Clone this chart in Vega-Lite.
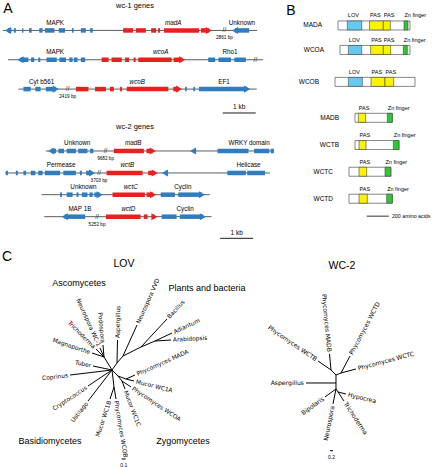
{
"$schema": "https://vega.github.io/schema/vega-lite/v6.json",
"padding": 0,
"background": "white",
"spacing": 0,
"config": {"view": {"stroke": null}, "text": {"font": "Liberation Sans", "color": "#000"}},
"datasets": {
"aLines": [
{"r":1,"s":0.09,"e":7.79},{"r":2,"s":0.24,"e":7.97},{"r":3,"s":0.56,"e":7.78},
{"r":5.11,"s":1.39,"e":8.30},{"r":5.86,"s":0.15,"e":8.18},{"r":6.60,"s":1.26,"e":6.36},{"r":7.35,"s":1.34,"e":6.41}
],
"aFeat": [
{"r":1,"s":0.15,"e":0.35,"g":"n","a":"-"},{"r":1,"s":0.42,"e":0.48,"g":"n","a":""},{"r":1,"s":0.67,"e":0.71,"g":"n","a":""},
{"r":1,"s":0.88,"e":0.96,"g":"n","a":""},{"r":1,"s":1.19,"e":1.29,"g":"n","a":""},{"r":1,"s":1.36,"e":1.65,"g":"n","a":""},
{"r":1,"s":1.78,"e":1.97,"g":"n","a":""},{"r":1,"s":2.18,"e":2.23,"g":"n","a":""},{"r":1,"s":2.45,"e":2.60,"g":"n","a":""},
{"r":1,"s":2.73,"e":2.81,"g":"n","a":""},
{"r":1,"s":3.73,"e":4.03,"g":"t","a":""},{"r":1,"s":4.12,"e":4.42,"g":"t","a":""},{"r":1,"s":4.58,"e":4.73,"g":"t","a":""},
{"r":1,"s":4.79,"e":4.85,"g":"t","a":""},{"r":1,"s":4.97,"e":6.03,"g":"t","a":""},{"r":1,"s":6.09,"e":6.42,"g":"t","a":"+"},
{"r":1,"s":7.03,"e":7.55,"g":"n","a":"-"},
{"r":2,"s":0.53,"e":0.86,"g":"n","a":"-"},{"r":2,"s":0.94,"e":1.04,"g":"n","a":""},{"r":2,"s":1.16,"e":1.22,"g":"n","a":""},
{"r":2,"s":1.41,"e":1.72,"g":"n","a":""},{"r":2,"s":1.80,"e":2.00,"g":"n","a":""},{"r":2,"s":2.10,"e":2.20,"g":"n","a":""},
{"r":2,"s":2.24,"e":2.35,"g":"n","a":""},{"r":2,"s":2.45,"e":2.58,"g":"n","a":""},
{"r":2,"s":3.08,"e":3.29,"g":"t","a":""},{"r":2,"s":3.38,"e":3.69,"g":"t","a":""},{"r":2,"s":3.79,"e":3.91,"g":"t","a":""},
{"r":2,"s":4.05,"e":4.11,"g":"t","a":""},{"r":2,"s":4.19,"e":5.20,"g":"t","a":""},{"r":2,"s":5.26,"e":5.61,"g":"t","a":"+"},
{"r":2,"s":6.31,"e":6.52,"g":"n","a":""},{"r":2,"s":6.62,"e":7.00,"g":"n","a":""},{"r":2,"s":7.10,"e":7.45,"g":"n","a":""},
{"r":3,"s":0.71,"e":0.93,"g":"n","a":""},{"r":3,"s":1.07,"e":1.23,"g":"n","a":""},{"r":3,"s":1.39,"e":1.78,"g":"n","a":"+"},
{"r":3,"s":2.30,"e":2.68,"g":"t","a":""},{"r":3,"s":2.88,"e":3.21,"g":"t","a":""},{"r":3,"s":3.33,"e":3.45,"g":"t","a":""},
{"r":3,"s":3.64,"e":3.70,"g":"t","a":""},{"r":3,"s":3.84,"e":5.10,"g":"t","a":""},{"r":3,"s":5.25,"e":5.51,"g":"t","a":"+"},
{"r":3,"s":5.61,"e":5.66,"g":"n","a":""},{"r":3,"s":5.86,"e":5.91,"g":"n","a":""},{"r":3,"s":6.03,"e":7.58,"g":"n","a":"+"},
{"r":5.11,"s":1.46,"e":1.70,"g":"n","a":"-"},{"r":5.11,"s":1.77,"e":1.94,"g":"n","a":""},{"r":5.11,"s":2.02,"e":2.30,"g":"n","a":""},
{"r":5.11,"s":2.37,"e":2.65,"g":"n","a":""},{"r":5.11,"s":2.73,"e":2.83,"g":"n","a":""},
{"r":5.11,"s":3.45,"e":4.36,"g":"t","a":""},{"r":5.11,"s":4.44,"e":4.55,"g":"t","a":""},{"r":5.11,"s":4.60,"e":4.72,"g":"t","a":"+"},
{"r":5.11,"s":5.76,"e":5.86,"g":"n","a":"-"},
{"r":5.11,"s":6.59,"e":7.53,"g":"n","a":""},{"r":5.11,"s":7.70,"e":8.16,"g":"n","a":""},{"r":5.11,"s":8.20,"e":8.30,"g":"n","a":""},
{"r":5.86,"s":0.18,"e":0.24,"g":"n","a":""},{"r":5.86,"s":0.48,"e":0.54,"g":"n","a":""},{"r":5.86,"s":0.71,"e":0.79,"g":"n","a":""},
{"r":5.86,"s":0.93,"e":1.07,"g":"n","a":""},{"r":5.86,"s":1.16,"e":1.29,"g":"n","a":""},{"r":5.86,"s":1.36,"e":1.82,"g":"n","a":""},
{"r":5.86,"s":1.92,"e":2.30,"g":"n","a":""},{"r":5.86,"s":2.42,"e":2.48,"g":"n","a":""},{"r":5.86,"s":2.61,"e":2.88,"g":"n","a":"+"},
{"r":5.86,"s":3.23,"e":4.32,"g":"t","a":""},{"r":5.86,"s":4.49,"e":4.61,"g":"t","a":""},{"r":5.86,"s":4.67,"e":4.78,"g":"t","a":"+"},
{"r":5.86,"s":4.91,"e":5.05,"g":"n","a":"-"},{"r":5.86,"s":6.89,"e":7.45,"g":"n","a":""},{"r":5.86,"s":7.49,"e":8.03,"g":"n","a":""},
{"r":6.60,"s":1.82,"e":1.88,"g":"n","a":""},{"r":6.60,"s":2.02,"e":2.20,"g":"n","a":""},{"r":6.60,"s":2.32,"e":2.38,"g":"n","a":""},
{"r":6.60,"s":2.48,"e":2.65,"g":"n","a":""},{"r":6.60,"s":2.71,"e":2.81,"g":"n","a":""},{"r":6.60,"s":2.86,"e":3.11,"g":"n","a":"+"},
{"r":6.60,"s":3.41,"e":4.39,"g":"t","a":""},{"r":6.60,"s":4.44,"e":4.57,"g":"t","a":""},{"r":6.60,"s":4.61,"e":4.73,"g":"t","a":"+"},
{"r":6.60,"s":4.87,"e":5.30,"g":"n","a":""},{"r":6.60,"s":5.40,"e":6.21,"g":"n","a":"+"},
{"r":7.35,"s":1.87,"e":2.58,"g":"n","a":"-"},
{"r":7.35,"s":3.21,"e":4.26,"g":"t","a":""},{"r":7.35,"s":4.36,"e":4.47,"g":"t","a":""},{"r":7.35,"s":4.65,"e":4.77,"g":"t","a":"+"},
{"r":7.35,"s":4.90,"e":5.35,"g":"n","a":""},{"r":7.35,"s":5.45,"e":6.24,"g":"n","a":"+"}
],
"aLab": [
{"r":1,"x":1.67,"t":"MAPK","it":false},{"r":1,"x":5.25,"t":"madA","it":true},{"r":1,"x":7.33,"t":"Unknown","it":false},
{"r":2,"x":1.67,"t":"MAPK","it":false},{"r":2,"x":4.87,"t":"wcoA","it":true},{"r":2,"x":6.97,"t":"Rho1","it":false},
{"r":3,"x":1.26,"t":"Cyt b561","it":false},{"r":3,"x":4.16,"t":"wcoB","it":true},{"r":3,"x":6.79,"t":"EF1","it":false},
{"r":5.11,"x":2.34,"t":"Unknown","it":false},{"r":5.11,"x":4.04,"t":"madB","it":true},{"r":5.11,"x":7.55,"t":"WRKY domain","it":false},
{"r":5.86,"x":1.85,"t":"Permease","it":false},{"r":5.86,"x":3.86,"t":"wctB","it":true},{"r":5.86,"x":7.53,"t":"Helicase","it":false},
{"r":6.60,"x":2.53,"t":"Unknown","it":false},{"r":6.60,"x":3.96,"t":"wctC","it":true},{"r":6.60,"x":5.54,"t":"Cyclin","it":false},
{"r":7.35,"x":2.42,"t":"MAP 1B","it":false},{"r":7.35,"x":3.89,"t":"wctD","it":true},{"r":7.35,"x":5.61,"t":"Cyclin","it":false}
],
"aBreak": [
{"r":1,"x":6.80,"bp":"2861 bp"},{"r":2,"x":7.74,"bp":""},{"r":3,"x":2.05,"bp":"2419 bp"},
{"r":5.11,"x":3.20,"bp":"9682 bp"},{"r":5.86,"x":3.00,"bp":"3703 bp"},{"r":7.35,"x":2.94,"bp":"5252 bp"}
],
"aScale": [{"r":3.815,"s":6.75,"e":7.75},{"r":8.087,"s":6.67,"e":7.67}],
"aHead": [{"r":0.167,"x":4.09,"t":"wc-1 genes"},{"r":4.293,"x":4.09,"t":"wc-2 genes"}],
"bProt": [
{"p":"MADA","r":0.82,"s":477,"e":1125},{"p":"WCOA","r":1.80,"s":495,"e":1125},{"p":"WCOB","r":3.08,"s":450,"e":1170},
{"p":"MADB","r":4.52,"s":630,"e":966},{"p":"WCTB","r":5.61,"s":630,"e":1026},{"p":"WCTC","r":6.68,"s":576,"e":954},
{"p":"WCTD","r":7.76,"s":576,"e":966}
],
"bDom": [
{"r":0.82,"d":"LOV","s":561,"e":690},{"r":0.82,"d":"PAS","s":761,"e":885},{"r":0.82,"d":"PAS","s":885,"e":948},{"r":0.82,"d":"Zn finger","s":1071,"e":1107},
{"r":1.80,"d":"LOV","s":570,"e":690},{"r":1.80,"d":"PAS","s":771,"e":885},{"r":1.80,"d":"PAS","s":885,"e":951},{"r":1.80,"d":"Zn finger","s":1065,"e":1101},
{"r":3.08,"d":"LOV","s":570,"e":696},{"r":3.08,"d":"PAS","s":774,"e":900},{"r":3.08,"d":"PAS","s":900,"e":978},
{"r":4.52,"d":"PAS","s":660,"e":726},{"r":4.52,"d":"Zn finger","s":921,"e":966},
{"r":5.61,"d":"PAS","s":666,"e":729},{"r":5.61,"d":"Zn finger","s":975,"e":1026},
{"r":6.68,"d":"PAS","s":666,"e":735},{"r":6.68,"d":"Zn finger","s":900,"e":951},
{"r":7.76,"d":"PAS","s":666,"e":741},{"r":7.76,"d":"Zn finger","s":915,"e":966}
],
"lov": [
{"px":0,"py":0,"x":-0.2,"y":0.325,"n":""},
{"px":0,"py":0,"x":0.125,"y":0.175,"n":""},
{"px":0.125,"py":0.175,"x":0.275,"y":0.35,"n":""},
{"px":0.275,"py":0.35,"x":0.725,"y":0.575,"n":""},
{"px":0.725,"py":0.575,"x":1.075,"y":0.725,"n":""},
{"px":0,"py":0,"x":0.05,"y":-0.425,"n":""},
{"px":0,"py":0,"x":0.15,"y":-0.15,"n":""},
{"px":0.15,"py":-0.15,"x":0.35,"y":-0.225,"n":""},
{"px":0.15,"py":-0.15,"x":0.25,"y":-0.275,"n":""},
{"px":-0.2,"py":0.325,"x":-0.5,"y":0.425,"n":"Magnaporthe"},
{"px":-0.2,"py":0.325,"x":-0.4,"y":0.525,"n":"Trichoderma"},
{"px":-0.2,"py":0.325,"x":-0.3,"y":0.55,"n":"Neurospora WC-1"},
{"px":-0.2,"py":0.325,"x":-0.225,"y":0.625,"n":"Podospora"},
{"px":0.125,"py":0.175,"x":0.1375,"y":0.75,"n":"Aspergillus"},
{"px":0.275,"py":0.35,"x":0.625,"y":1.125,"n":"Neurospora VVD"},
{"px":0.725,"py":0.575,"x":1.375,"y":1.275,"n":"Bacillus"},
{"px":1.075,"py":0.725,"x":1.5,"y":0.925,"n":"Adiantum"},
{"px":1.075,"py":0.725,"x":1.475,"y":0.75,"n":"Arabidopsis"},
{"px":0,"py":0,"x":-0.475,"y":0.1,"n":"Tuber"},
{"px":0,"py":0,"x":-1.05,"y":-0.125,"n":"Coprinus"},
{"px":0,"py":0,"x":-0.6,"y":-0.4,"n":"Cryptococcus"},
{"px":0,"py":0,"x":-0.6,"y":-0.775,"n":"Ustilago"},
{"px":0.05,"py":-0.425,"x":-0.05,"y":-0.725,"n":"Mucor WC1B"},
{"px":0.05,"py":-0.425,"x":0.1,"y":-0.725,"n":"Phycomyces WCOB"},
{"px":0.35,"py":-0.225,"x":0.575,"y":-0.125,"n":"Phycomyces MADA"},
{"px":0.35,"py":-0.225,"x":0.55,"y":-0.275,"n":"Mucor WC1A"},
{"px":0.25,"py":-0.275,"x":0.475,"y":-0.425,"n":"Phycomyces WCOA"},
{"px":0.25,"py":-0.275,"x":0.325,"y":-0.475,"n":"Mucor WC1C"}
],
"wc2": [
{"px":0,"py":0,"x":0,"y":0.533,"n":""},
{"px":0,"py":0.533,"x":-0.333,"y":0.867,"n":""},
{"px":0,"py":0.533,"x":0.333,"y":0.667,"n":""},
{"px":0,"py":0,"x":0,"y":-0.4,"n":""},
{"px":0,"py":-0.4,"x":0.133,"y":-0.6,"n":""},
{"px":0,"py":0,"x":-2,"y":0,"n":"Aspergillus"},
{"px":-0.333,"py":0.867,"x":-1.2,"y":1.467,"n":"Phycomyces WCTB"},
{"px":-0.333,"py":0.867,"x":-0.433,"y":1.933,"n":"Phycomyces MADB"},
{"px":0.333,"py":0.667,"x":0.933,"y":1.8,"n":"Phycomyces WCTD"},
{"px":0.333,"py":0.667,"x":1.333,"y":0.933,"n":"Phycomyces WCTC"},
{"px":0.133,"py":-0.6,"x":0.667,"y":-0.733,"n":"Hypocrea"},
{"px":0.133,"py":-0.6,"x":0.533,"y":-1.2,"n":"Trichoderma"},
{"px":0,"py":-0.4,"x":-0.2,"y":-1.4,"n":"Neurospora"},
{"px":0,"py":-0.4,"x":-0.733,"y":-0.933,"n":"Bipolaris"}
]
},
"vconcat": [
{"hconcat": [
{"width": 285, "height": 250,
 "layer": [
  {"data": {"name": "aLines"}, "mark": {"type": "rule", "color": "#333", "strokeWidth": 0.8},
   "encoding": {"x": {"field": "s", "type": "quantitative", "scale": {"domain": [0, 8.636], "nice": false, "zero": false}, "axis": null},
    "x2": {"field": "e"},
    "y": {"field": "r", "type": "quantitative", "scale": {"domain": [-0.0375, 8.486], "nice": false, "zero": false, "reverse": true}, "axis": null}}},
  {"data": {"name": "aFeat"},
   "transform": [{"calculate": "datum.a == '-' ? datum.s + 0.09 : datum.s", "as": "s2"}, {"calculate": "datum.a == '+' ? datum.e - 0.09 : datum.e", "as": "e2"}],
   "mark": {"type": "rule", "strokeWidth": 4.5},
   "encoding": {"x": {"field": "s2", "type": "quantitative", "scale": {"domain": [0, 8.636], "nice": false, "zero": false}, "axis": null},
    "x2": {"field": "e2"},
    "y": {"field": "r", "type": "quantitative", "scale": {"domain": [-0.0375, 8.486], "nice": false, "zero": false, "reverse": true}, "axis": null},
    "color": {"field": "g", "type": "nominal", "scale": {"domain": ["t", "n"], "range": ["#e8211f", "#2f7cc0"]}, "legend": null}}},
  {"data": {"name": "aFeat"},
   "transform": [{"filter": "datum.a != ''"}, {"calculate": "datum.a == '+' ? datum.e - 0.09 : datum.s + 0.09", "as": "tip"}],
   "mark": {"type": "point", "filled": true, "opacity": 1, "size": 50, "strokeWidth": 0},
   "encoding": {"x": {"field": "tip", "type": "quantitative", "scale": {"domain": [0, 8.636], "nice": false, "zero": false}, "axis": null},
    "y": {"field": "r", "type": "quantitative", "scale": {"domain": [-0.0375, 8.486], "nice": false, "zero": false, "reverse": true}, "axis": null},
    "color": {"field": "g", "type": "nominal", "scale": {"domain": ["t", "n"], "range": ["#e8211f", "#2f7cc0"]}, "legend": null},
    "shape": {"field": "a", "type": "nominal", "scale": {"domain": ["+", "-"], "range": ["triangle-right", "triangle-left"]}, "legend": null}}},
  {"data": {"name": "aLab"}, "transform": [{"filter": "!datum.it"}],
   "mark": {"type": "text", "fontSize": 6.3, "dy": -7.5},
   "encoding": {"x": {"field": "x", "type": "quantitative", "scale": {"domain": [0, 8.636], "nice": false, "zero": false}, "axis": null},
    "y": {"field": "r", "type": "quantitative", "scale": {"domain": [-0.0375, 8.486], "nice": false, "zero": false, "reverse": true}, "axis": null},
    "text": {"field": "t"}}},
  {"data": {"name": "aLab"}, "transform": [{"filter": "datum.it"}],
   "mark": {"type": "text", "fontSize": 6.3, "dy": -7.5, "fontStyle": "italic"},
   "encoding": {"x": {"field": "x", "type": "quantitative", "scale": {"domain": [0, 8.636], "nice": false, "zero": false}, "axis": null},
    "y": {"field": "r", "type": "quantitative", "scale": {"domain": [-0.0375, 8.486], "nice": false, "zero": false, "reverse": true}, "axis": null},
    "text": {"field": "t"}}},
  {"data": {"name": "aBreak"},
   "mark": {"type": "text", "fontSize": 6.5, "color": "#333"},
   "encoding": {"x": {"field": "x", "type": "quantitative", "scale": {"domain": [0, 8.636], "nice": false, "zero": false}, "axis": null},
    "y": {"field": "r", "type": "quantitative", "scale": {"domain": [-0.0375, 8.486], "nice": false, "zero": false, "reverse": true}, "axis": null},
    "text": {"value": "//"}}},
  {"data": {"name": "aBreak"},
   "mark": {"type": "text", "fontSize": 4.7, "dy": 8},
   "encoding": {"x": {"field": "x", "type": "quantitative", "scale": {"domain": [0, 8.636], "nice": false, "zero": false}, "axis": null},
    "y": {"field": "r", "type": "quantitative", "scale": {"domain": [-0.0375, 8.486], "nice": false, "zero": false, "reverse": true}, "axis": null},
    "text": {"field": "bp"}}},
  {"data": {"name": "aScale"}, "mark": {"type": "rule", "color": "#000", "strokeWidth": 0.9},
   "encoding": {"x": {"field": "s", "type": "quantitative", "scale": {"domain": [0, 8.636], "nice": false, "zero": false}, "axis": null},
    "x2": {"field": "e"},
    "y": {"field": "r", "type": "quantitative", "scale": {"domain": [-0.0375, 8.486], "nice": false, "zero": false, "reverse": true}, "axis": null}}},
  {"data": {"name": "aScale"}, "transform": [{"calculate": "(datum.s + datum.e) / 2", "as": "m"}],
   "mark": {"type": "text", "fontSize": 6.5, "dy": -5.5},
   "encoding": {"x": {"field": "m", "type": "quantitative", "scale": {"domain": [0, 8.636], "nice": false, "zero": false}, "axis": null},
    "y": {"field": "r", "type": "quantitative", "scale": {"domain": [-0.0375, 8.486], "nice": false, "zero": false, "reverse": true}, "axis": null},
    "text": {"value": "1 kb"}}},
  {"data": {"name": "aHead"},
   "mark": {"type": "text", "fontSize": 7.4},
   "encoding": {"x": {"field": "x", "type": "quantitative", "scale": {"domain": [0, 8.636], "nice": false, "zero": false}, "axis": null},
    "y": {"field": "r", "type": "quantitative", "scale": {"domain": [-0.0375, 8.486], "nice": false, "zero": false, "reverse": true}, "axis": null},
    "text": {"field": "t"}}},
  {"data": {"values": [{"x": 0.242, "r": 0.269, "t": "A"}]},
   "mark": {"type": "text", "fontSize": 14},
   "encoding": {"x": {"field": "x", "type": "quantitative", "scale": {"domain": [0, 8.636], "nice": false, "zero": false}, "axis": null},
    "y": {"field": "r", "type": "quantitative", "scale": {"domain": [-0.0375, 8.486], "nice": false, "zero": false, "reverse": true}, "axis": null},
    "text": {"field": "t"}}}
 ]},
{"width": 147, "height": 250,
 "layer": [
  {"data": {"name": "bProt"}, "mark": {"type": "bar", "orient": "horizontal", "height": 9, "fill": "white", "stroke": "#555", "strokeWidth": 0.7},
   "encoding": {"x": {"field": "s", "type": "quantitative", "scale": {"domain": [0, 1323], "nice": false, "zero": false}, "axis": null},
    "x2": {"field": "e"},
    "y": {"field": "r", "type": "quantitative", "scale": {"domain": [0, 9.615], "nice": false, "zero": false, "reverse": true}, "axis": null}}},
  {"data": {"name": "bDom"}, "mark": {"type": "bar", "orient": "horizontal", "height": 9, "stroke": "#444", "strokeWidth": 0.6, "opacity": 1},
   "encoding": {"x": {"field": "s", "type": "quantitative", "scale": {"domain": [0, 1323], "nice": false, "zero": false}, "axis": null},
    "x2": {"field": "e"},
    "y": {"field": "r", "type": "quantitative", "scale": {"domain": [0, 9.615], "nice": false, "zero": false, "reverse": true}, "axis": null},
    "fill": {"field": "d", "type": "nominal", "scale": {"domain": ["LOV", "PAS", "Zn finger"], "range": ["#66c9f3", "#fbf300", "#2ccb2c"]}, "legend": null}}},
  {"data": {"name": "bDom"},
   "mark": {"type": "text", "fontSize": 5.5, "dy": -10, "align": "left", "dx": 0.5},
   "encoding": {"x": {"field": "s", "type": "quantitative", "scale": {"domain": [0, 1323], "nice": false, "zero": false}, "axis": null},
    "y": {"field": "r", "type": "quantitative", "scale": {"domain": [0, 9.615], "nice": false, "zero": false, "reverse": true}, "axis": null},
    "text": {"field": "d"}}},
  {"data": {"name": "bProt"},
   "mark": {"type": "text", "fontSize": 6.5, "align": "right", "dx": -16},
   "encoding": {"x": {"field": "s", "type": "quantitative", "scale": {"domain": [0, 1323], "nice": false, "zero": false}, "axis": null},
    "y": {"field": "r", "type": "quantitative", "scale": {"domain": [0, 9.615], "nice": false, "zero": false, "reverse": true}, "axis": null},
    "text": {"field": "p"}}},
  {"data": {"values": [{"s": 735, "e": 935, "r": 8.46}]},
   "layer": [
    {"mark": {"type": "rule", "color": "#000", "strokeWidth": 0.8},
     "encoding": {"x": {"field": "s", "type": "quantitative", "scale": {"domain": [0, 1323], "nice": false, "zero": false}, "axis": null},
      "x2": {"field": "e"},
      "y": {"field": "r", "type": "quantitative", "scale": {"domain": [0, 9.615], "nice": false, "zero": false, "reverse": true}, "axis": null}}},
    {"mark": {"type": "text", "fontSize": 5.3, "align": "left", "dx": 3},
     "encoding": {"x": {"field": "e", "type": "quantitative", "scale": {"domain": [0, 1323], "nice": false, "zero": false}, "axis": null},
      "y": {"field": "r", "type": "quantitative", "scale": {"domain": [0, 9.615], "nice": false, "zero": false, "reverse": true}, "axis": null},
      "text": {"value": "200 amino acids"}}}
   ]},
  {"data": {"values": [{"x": 54, "r": 0.26, "t": "B"}]},
   "mark": {"type": "text", "fontSize": 14},
   "encoding": {"x": {"field": "x", "type": "quantitative", "scale": {"domain": [0, 1323], "nice": false, "zero": false}, "axis": null},
    "y": {"field": "r", "type": "quantitative", "scale": {"domain": [0, 9.615], "nice": false, "zero": false, "reverse": true}, "axis": null},
    "text": {"field": "t"}}}
 ]}
], "spacing": 0, "bounds": "flush"},
{"hconcat": [
{"width": 250, "height": 217,
 "layer": [
  {"data": {"name": "lov"}, "mark": {"type": "rule", "color": "#000", "strokeWidth": 1},
   "encoding": {"x": {"field": "px", "type": "quantitative", "scale": {"domain": [-2.8, 3.45], "nice": false, "zero": false}, "axis": null},
    "y": {"field": "py", "type": "quantitative", "scale": {"domain": [-2.525, 2.9], "nice": false, "zero": false}, "axis": null},
    "x2": {"field": "x"}, "y2": {"field": "y"}}},
  {"data": {"name": "lov"},
   "transform": [{"filter": "datum.n != '' && datum.x >= datum.px"}, {"calculate": "atan2(datum.py - datum.y, datum.x - datum.px) * 180 / PI", "as": "ang"}],
   "mark": {"type": "text", "align": "left", "dx": 2, "font": "DejaVu Sans", "fontSize": 5.9},
   "encoding": {"x": {"field": "x", "type": "quantitative", "scale": {"domain": [-2.8, 3.45], "nice": false, "zero": false}, "axis": null},
    "y": {"field": "y", "type": "quantitative", "scale": {"domain": [-2.525, 2.9], "nice": false, "zero": false}, "axis": null},
    "text": {"field": "n"}, "angle": {"field": "ang", "type": "quantitative", "scale": null}}},
  {"data": {"name": "lov"},
   "transform": [{"filter": "datum.n != '' && datum.x < datum.px"}, {"calculate": "atan2(datum.py - datum.y, datum.x - datum.px) * 180 / PI + 180", "as": "ang"}],
   "mark": {"type": "text", "align": "right", "dx": -2, "font": "DejaVu Sans", "fontSize": 5.9},
   "encoding": {"x": {"field": "x", "type": "quantitative", "scale": {"domain": [-2.8, 3.45], "nice": false, "zero": false}, "axis": null},
    "y": {"field": "y", "type": "quantitative", "scale": {"domain": [-2.525, 2.9], "nice": false, "zero": false}, "axis": null},
    "text": {"field": "n"}, "angle": {"field": "ang", "type": "quantitative", "scale": null}}},
  {"data": {"values": [{"x": -0.825, "y": 2.175, "t": "Ascomycetes"}, {"x": 2.375, "y": 2.05, "t": "Plants and bacteria"}, {"x": -1.55, "y": -1.775, "t": "Basidiomycetes"}, {"x": 1.775, "y": -1.775, "t": "Zygomycetes"}]},
   "mark": {"type": "text", "fontSize": 9},
   "encoding": {"x": {"field": "x", "type": "quantitative", "scale": {"domain": [-2.8, 3.45], "nice": false, "zero": false}, "axis": null},
    "y": {"field": "y", "type": "quantitative", "scale": {"domain": [-2.525, 2.9], "nice": false, "zero": false}, "axis": null},
    "text": {"field": "t"}}},
  {"data": {"values": [{"x": 0.3, "y": 2.65, "t": "LOV"}]},
   "mark": {"type": "text", "fontSize": 10.5},
   "encoding": {"x": {"field": "x", "type": "quantitative", "scale": {"domain": [-2.8, 3.45], "nice": false, "zero": false}, "axis": null},
    "y": {"field": "y", "type": "quantitative", "scale": {"domain": [-2.525, 2.9], "nice": false, "zero": false}, "axis": null},
    "text": {"field": "t"}}},
  {"data": {"values": [{"x": -2.625, "y": 2.825, "t": "C"}]},
   "mark": {"type": "text", "fontSize": 14},
   "encoding": {"x": {"field": "x", "type": "quantitative", "scale": {"domain": [-2.8, 3.45], "nice": false, "zero": false}, "axis": null},
    "y": {"field": "y", "type": "quantitative", "scale": {"domain": [-2.525, 2.9], "nice": false, "zero": false}, "axis": null},
    "text": {"field": "t"}}},
  {"data": {"values": [{"s": 0.2425, "e": 0.3425, "y": -2.225}]},
   "layer": [
    {"mark": {"type": "rule", "color": "#000", "strokeWidth": 1},
     "encoding": {"x": {"field": "s", "type": "quantitative", "scale": {"domain": [-2.8, 3.45], "nice": false, "zero": false}, "axis": null},
      "x2": {"field": "e"},
      "y": {"field": "y", "type": "quantitative", "scale": {"domain": [-2.525, 2.9], "nice": false, "zero": false}, "axis": null}}},
    {"transform": [{"calculate": "(datum.s + datum.e) / 2", "as": "m"}],
     "mark": {"type": "text", "fontSize": 5, "dy": 6},
     "encoding": {"x": {"field": "m", "type": "quantitative", "scale": {"domain": [-2.8, 3.45], "nice": false, "zero": false}, "axis": null},
      "y": {"field": "y", "type": "quantitative", "scale": {"domain": [-2.525, 2.9], "nice": false, "zero": false}, "axis": null},
      "text": {"value": "0.1"}}}
   ]}
 ]},
{"width": 182, "height": 217,
 "layer": [
  {"data": {"name": "wc2"}, "mark": {"type": "rule", "color": "#000", "strokeWidth": 1},
   "encoding": {"x": {"field": "px", "type": "quantitative", "scale": {"domain": [-5.733, 6.4], "nice": false, "zero": false}, "axis": null},
    "y": {"field": "py", "type": "quantitative", "scale": {"domain": [-5.867, 8.6], "nice": false, "zero": false}, "axis": null},
    "x2": {"field": "x"}, "y2": {"field": "y"}}},
  {"data": {"name": "wc2"},
   "transform": [{"filter": "datum.n != '' && datum.x >= datum.px"}, {"calculate": "atan2(datum.py - datum.y, datum.x - datum.px) * 180 / PI", "as": "ang"}],
   "mark": {"type": "text", "align": "left", "dx": 2, "font": "DejaVu Sans", "fontSize": 6.1},
   "encoding": {"x": {"field": "x", "type": "quantitative", "scale": {"domain": [-5.733, 6.4], "nice": false, "zero": false}, "axis": null},
    "y": {"field": "y", "type": "quantitative", "scale": {"domain": [-5.867, 8.6], "nice": false, "zero": false}, "axis": null},
    "text": {"field": "n"}, "angle": {"field": "ang", "type": "quantitative", "scale": null}}},
  {"data": {"name": "wc2"},
   "transform": [{"filter": "datum.n != '' && datum.x < datum.px"}, {"calculate": "atan2(datum.py - datum.y, datum.x - datum.px) * 180 / PI + 180", "as": "ang"}],
   "mark": {"type": "text", "align": "right", "dx": -2, "font": "DejaVu Sans", "fontSize": 6.1},
   "encoding": {"x": {"field": "x", "type": "quantitative", "scale": {"domain": [-5.733, 6.4], "nice": false, "zero": false}, "axis": null},
    "y": {"field": "y", "type": "quantitative", "scale": {"domain": [-5.867, 8.6], "nice": false, "zero": false}, "axis": null},
    "text": {"field": "n"}, "angle": {"field": "ang", "type": "quantitative", "scale": null}}},
  {"data": {"values": [{"x": 0.4, "y": 7.8, "t": "WC-2"}]},
   "mark": {"type": "text", "fontSize": 10.5},
   "encoding": {"x": {"field": "x", "type": "quantitative", "scale": {"domain": [-5.733, 6.4], "nice": false, "zero": false}, "axis": null},
    "y": {"field": "y", "type": "quantitative", "scale": {"domain": [-5.867, 8.6], "nice": false, "zero": false}, "axis": null},
    "text": {"field": "t"}}},
  {"data": {"values": [{"s": -0.4, "e": -0.2, "y": -4.513}]},
   "layer": [
    {"mark": {"type": "rule", "color": "#000", "strokeWidth": 1},
     "encoding": {"x": {"field": "s", "type": "quantitative", "scale": {"domain": [-5.733, 6.4], "nice": false, "zero": false}, "axis": null},
      "x2": {"field": "e"},
      "y": {"field": "y", "type": "quantitative", "scale": {"domain": [-5.867, 8.6], "nice": false, "zero": false}, "axis": null}}},
    {"transform": [{"calculate": "(datum.s + datum.e) / 2", "as": "m"}],
     "mark": {"type": "text", "fontSize": 5, "dy": 6.5},
     "encoding": {"x": {"field": "m", "type": "quantitative", "scale": {"domain": [-5.733, 6.4], "nice": false, "zero": false}, "axis": null},
      "y": {"field": "y", "type": "quantitative", "scale": {"domain": [-5.867, 8.6], "nice": false, "zero": false}, "axis": null},
      "text": {"value": "0.2"}}}
   ]}
 ]}
], "spacing": 0, "bounds": "flush"}
]
}
